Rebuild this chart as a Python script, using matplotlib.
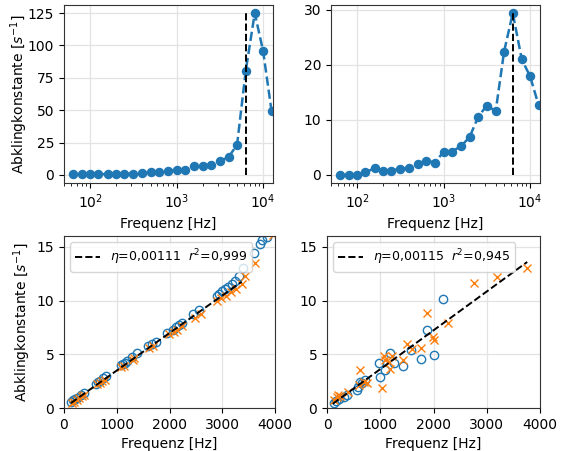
import numpy as np
import matplotlib
matplotlib.use("Agg")
import matplotlib.pyplot as plt

# ---- data ----
freq_terz = [63, 80, 100, 125, 160, 200, 250, 315, 400, 500, 630, 800, 1000, 1250,
             1600, 2000, 2500, 3150, 4000, 5000, 6300, 8000, 10000, 12500]
decay_left = [0.5, 0.5, 0.5, 0.5, 0.7, 0.8, 0.9, 1.0, 1.2, 2.0, 2.3, 2.9, 3.9, 3.9,
              6.7, 7.0, 7.6, 10.7, 13.8, 23.4, 80.5, 125.0, 95.5, 49.5]
decay_right = [0.0, 0.0, 0.0, 0.45, 1.25, 0.8, 0.8, 1.1, 1.25, 2.0, 2.6, 2.25, 4.25, 4.25,
               5.25, 6.9, 10.5, 12.6, 11.6, 22.4, 29.4, 21.0, 17.9, 12.7]
f_res_left = 6300
f_res_right = 6300

bl_circ_f = [130, 170, 210, 250, 330, 370, 610, 650, 690, 740, 800, 1080, 1110, 1150, 1200,
             1290, 1390, 1590, 1660, 1740, 1950, 2060, 2120, 2180, 2240, 2450, 2560, 2900,
             2940, 2990, 3050, 3110, 3180, 3240, 3310, 3390, 3610, 3710, 3760, 3850]
bl_circ_v = [0.6, 0.7, 0.85, 0.95, 1.25, 1.35, 2.25, 2.4, 2.55, 2.75, 3.0, 4.0, 4.1, 4.2, 4.4,
             4.7, 5.1, 5.8, 6.0, 6.15, 7.0, 7.3, 7.5, 7.7, 7.95, 8.7, 9.1, 10.45,
             10.6, 10.85, 11.05, 11.3, 11.5, 11.8, 12.3, 13.0, 14.45, 15.3, 15.6, 15.9]
bl_x_f = [150, 190, 240, 290, 350, 380, 630, 680, 720, 770, 1090, 1140, 1300, 1330, 1620,
          1680, 1990, 2080, 2150, 2230, 2480, 2590, 2900, 2980, 3080, 3170, 3270, 3370,
          3430, 3620, 3960]
bl_x_v = [0.5, 0.6, 0.75, 0.95, 1.1, 1.2, 2.2, 2.35, 2.5, 2.65, 3.8, 3.95, 4.5, 4.65, 5.6,
          5.8, 6.85, 7.1, 7.3, 7.6, 8.4, 8.7, 10.0, 10.2, 10.45, 10.75, 11.1, 11.55,
          12.3, 13.45, 16.1]

br_circ_f = [140, 160, 220, 310, 370, 560, 590, 625, 660, 720, 975, 1000, 1090, 1190, 1250,
             1430, 1570, 1760, 1875, 2010, 2185]
br_circ_v = [0.5, 0.65, 0.8, 1.05, 1.2, 1.65, 2.0, 2.45, 2.3, 2.6, 4.17, 2.9, 3.5, 5.15, 4.15,
             3.95, 5.35, 4.6, 7.25, 4.95, 10.15]
br_x_f = [125, 190, 200, 250, 400, 595, 625, 690, 750, 1030, 1065, 1090, 1160, 1190, 1220,
          1430, 1500, 1590, 1760, 1875, 1995, 2010, 2280, 2760, 3195, 3755]
br_x_v = [0.75, 1.05, 1.25, 1.15, 1.5, 2.15, 3.5, 2.45, 2.3, 1.85, 4.85, 4.45, 4.3, 3.6, 4.8,
          4.45, 6.0, 5.5, 5.6, 8.85, 6.6, 6.3, 7.9, 11.65, 12.15, 13.0]

eta_left, r2_left = 0.00111, 0.999
eta_right, r2_right = 0.00115, 0.945
fit_range_left = [130, 3370]
fit_range_right = [110, 3760]

blue = "#1f77b4"
orange = "#ff7f0e"

fig = plt.figure(figsize=(5.63, 4.51), dpi=100)
W, H = 563, 451

def rect(l, t, r, b):
    return [l / W, 1 - b / H, (r - l) / W, (b - t) / H]

ax1 = fig.add_axes(rect(64, 5, 273, 183))
ax2 = fig.add_axes(rect(331, 5, 540, 183))
ax3 = fig.add_axes(rect(64, 236, 275, 408))
ax4 = fig.add_axes(rect(327, 236, 540, 408))

grid_kw = dict(color="#e3e3e3", linewidth=0.9)

for ax, dec, fres in [(ax1, decay_left, f_res_left), (ax2, decay_right, f_res_right)]:
    ax.set_axisbelow(True)
    ax.grid(True, **grid_kw)
    ax.plot(freq_terz, dec, "--o", color=blue, lw=1.8, ms=5.8)
    ax.vlines(fres, 0, max(dec), colors="k", linestyles="--", lw=1.4)
    ax.set_xscale("log")
    ax.set_xlim(50, 13000)
    ax.set_xlabel("Frequenz [Hz]")
ax1.set_ylabel("Abklingkonstante [$s^{-1}$]")
ax1.yaxis.set_label_coords(-0.165, 0.5)
ax1.set_yticks([0, 25, 50, 75, 100, 125])
ax2.set_yticks([0, 10, 20, 30])

for ax, cf, cv, xf, xv, eta, r2, fr in [
        (ax3, bl_circ_f, bl_circ_v, bl_x_f, bl_x_v, eta_left, r2_left, fit_range_left),
        (ax4, br_circ_f, br_circ_v, br_x_f, br_x_v, eta_right, r2_right, fit_range_right)]:
    ax.set_axisbelow(True)
    ax.grid(True, **grid_kw)
    ax.plot(cf, cv, "o", mfc="none", mec=blue, ms=6, mew=1.0)
    ax.plot(xf, xv, "x", color=orange, ms=6, mew=1.0)
    fl = np.array(fr, dtype=float)
    ax.plot(fl, np.pi * eta * fl, "k--", lw=1.4,
            label=r"$\eta$=" + f"{eta:.5f}".replace(".", ",") + r"  $r^2$=" + f"{r2:.3f}".replace(".", ","))
    ax.set_xlim(0, 4000)
    ax.set_ylim(0, 16)
    ax.set_xticks([0, 1000, 2000, 3000, 4000])
    ax.set_yticks([0, 5, 10, 15])
    ax.set_xlabel("Frequenz [Hz]")
    ax.legend(loc="upper left", fontsize=9)
ax3.set_ylabel("Abklingkonstante [$s^{-1}$]")
ax3.yaxis.set_label_coords(-0.145, 0.5)

for ax in (ax1, ax2, ax3, ax4):
    for s in ax.spines.values():
        s.set_color("#333333")

fig.savefig("out.png", dpi=100)
